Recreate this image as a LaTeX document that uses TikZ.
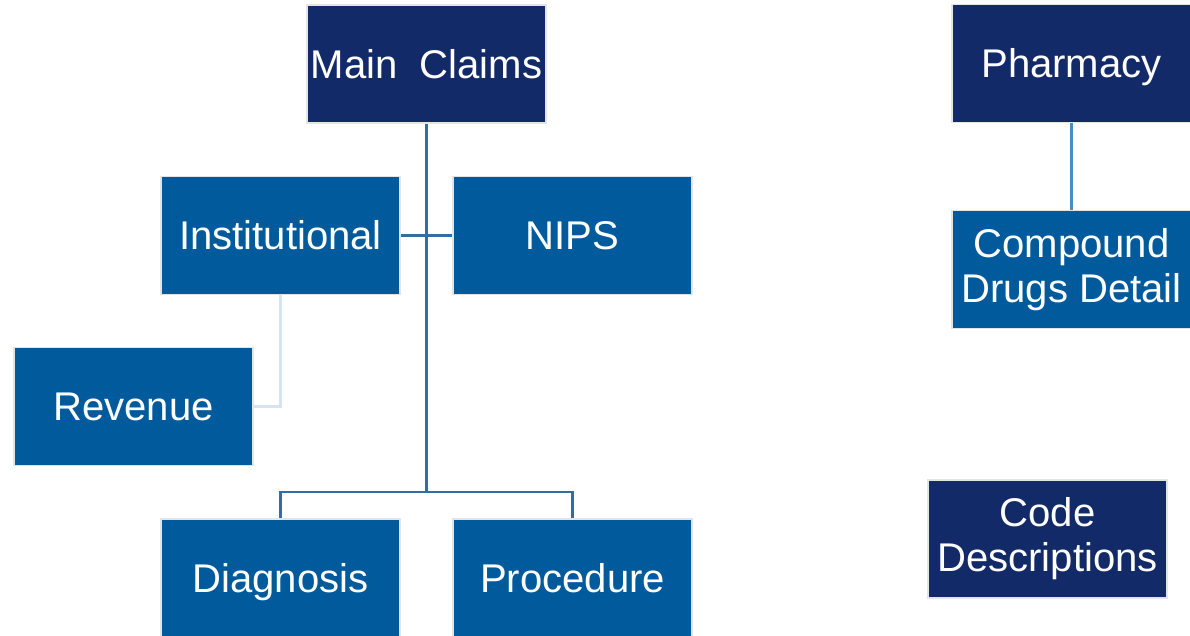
\documentclass[tikz,border=0pt]{standalone}
\usepackage{fontspec}
\setmainfont{Liberation Sans}
\usepackage{xcolor}
\usetikzlibrary{positioning,calc}
\definecolor{CLNavy}  {HTML}{132A69}
\definecolor{CLBlue}  {HTML}{005A9C}
\definecolor{CLLine}  {HTML}{2F6EA6}
\definecolor{CLLineLt}{HTML}{D5E3F5}
\definecolor{CLPharm} {HTML}{4A8DC3}
\definecolor{CLEdge}  {HTML}{E4E4E4}
\tikzset{
  tblbox/.style={draw=CLEdge,line width=1.2pt,text=white,align=center,
    minimum width=5.975cm,minimum height=2.95cm,inner sep=0pt,
    font=\fontsize{28.5}{32}\selectfont},
  oneline/.style={text height=21pt,text depth=0.5pt},
  twoline/.style={},
  link/.style={CLLine,line width=1.6pt}
}
\begin{document}
\begin{tikzpicture}[x=0.025cm,y=-0.025cm]
    \useasboundingbox (0,0) rectangle (1190,636);
    \clip (0,0) rectangle (1190,636);
    % Tables
    \foreach \nm/\cx/\cy/\col/\ln/\txt in {
      main/426.5/64/CLNavy/oneline/Main\ \ Claims,
      inst/280.5/235.5/CLBlue/oneline/Institutional,
      nips/572.5/235.5/CLBlue/oneline/NIPS,
      rev/133.5/406.5/CLBlue/oneline/Revenue,
      diag/280.5/578/CLBlue/oneline/Diagnosis,
      proc/572.5/578/CLBlue/oneline/Procedure,
      pharm/1071.5/63.5/CLNavy/oneline/Pharmacy,
      comp/1071.5/269.5/CLBlue/twoline/{Compound\\Drugs Detail},
      code/1047.5/539/CLNavy/twoline/{Code\\Descriptions}%
    }{
      \node[tblbox,\ln,fill=\col] (\nm) at (\cx,\cy) {\txt};
    }
    % Joins
    \coordinate (fork) at (426.5,492);
    \draw[link] (main) -- (fork);
    \draw[link] (inst.east) -- (nips.west);
    \draw[link] (diag.north) |- (fork) -| (proc.north);
    \draw[CLLineLt,line width=1.6pt] (inst.south) |- (rev.east);
    \draw[CLPharm,line width=1.6pt] (pharm.south) -- (comp.north);
  \end{tikzpicture}
\end{document}
